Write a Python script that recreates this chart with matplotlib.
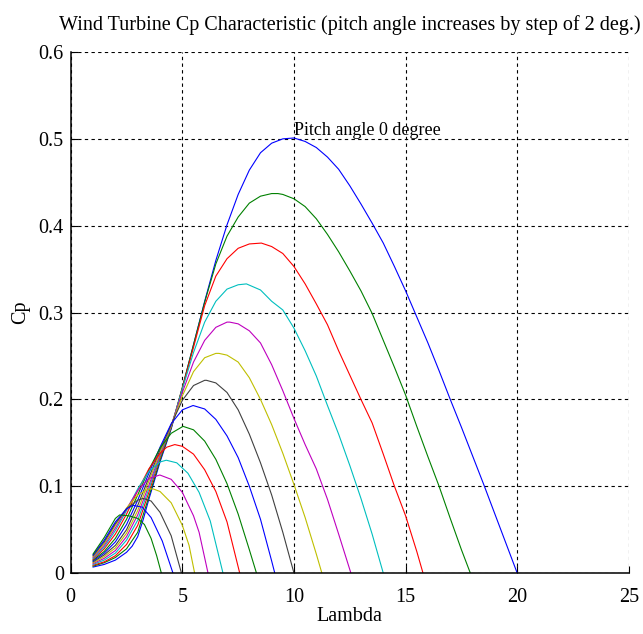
import matplotlib
matplotlib.use("Agg")
import matplotlib.pyplot as plt

# pitch angles, deg (step of 2)
pitch_angles = [0, 2, 4, 6, 8, 10, 12, 14, 16, 18, 20, 22, 24, 26, 28, 30]

# points, one (lambda, Cp) pair of lists per pitch angle
lam_b00 = [1, 1.5, 2, 2.5, 2.75, 3, 3.25, 3.5, 4, 4.5, 5, 5.5, 6, 6.5, 7, 7.5, 8, 8.5, 9, 9.5, 10,
           10.5, 11, 11.5, 12, 12.5, 13, 13.5, 14, 14.5, 15, 15.5, 16, 16.5, 17, 17.5, 18, 18.5, 19, 19.5, 20]
cp_b00 = [.007, .010, .015, .024, .031, .042, .062, .085, .128, .166, .213, .263, .313, .360, .401, .436, .464, .484, .495, .500, .501,
          .497, .490, .479, .465, .446, .425, .403, .380, .353, .325, .295, .265, .233, .200, .168, .135, .102, .068, .034, 0]

lam_b02 = [1, 1.5, 2, 2.5, 3, 3.5, 4, 4.5, 5, 5.5, 6, 6.5, 7, 7.5, 8, 8.5, 9, 9.28,
           9.5, 10, 10.5, 11, 11.5, 12, 12.5, 13, 13.5, 14, 14.5, 15, 15.5, 16, 16.5, 17, 17.5, 17.9]
cp_b02 = [.008, .012, .018, .028, .047, .088, .130, .167, .214, .263, .312, .356, .388, .410, .426, .434, .437, .437,
          .436, .431, .422, .408, .390, .370, .348, .325, .299, .268, .237, .205, .169, .134, .100, .063, .027, 0]

lam_b04 = [1, 1.5, 2, 2.5, 3, 3.5, 4, 4.5, 5, 5.5, 6, 6.5, 7, 7.5, 8, 8.54,
           9, 9.5, 10, 10.5, 11, 11.5, 12, 12.5, 13, 13.5, 14, 14.5, 15, 15.5, 15.78]
cp_b04 = [.009, .013, .020, .033, .055, .093, .133, .168, .213, .260, .308, .342, .362, .374, .379, .380,
          .376, .368, .353, .333, .310, .286, .256, .228, .200, .173, .137, .100, .066, .025, 0]

lam_b06 = [1, 1.5, 2, 2.5, 3, 3.5, 4, 4.5, 5, 5.5, 6, 6.5, 7, 7.5, 7.87,
           8.5, 9, 9.5, 10, 10.5, 11, 11.5, 12, 12.5, 13, 13.5, 14]
cp_b06 = [.010, .015, .023, .038, .061, .097, .135, .169, .212, .254, .289, .313, .327, .332, .333,
          .326, .313, .303, .282, .256, .227, .193, .160, .124, .086, .045, 0]

lam_b08 = [1, 1.5, 2, 2.5, 3, 3.5, 4, 4.5, 5, 5.5, 6, 6.5, 7, 7.12,
           7.5, 8, 8.5, 9, 9.5, 10, 10.5, 11, 11.5, 12, 12.55]
cp_b08 = [.011, .017, .026, .042, .067, .101, .137, .170, .208, .243, .268, .283, .289, .289,
          .287, .279, .265, .240, .210, .178, .148, .120, .085, .045, 0]

lam_b10 = [1, 1.5, 2, 2.5, 3, 3.5, 4, 4.5, 5, 5.5, 6, 6.5, 6.64,
           7, 7.5, 8, 8.5, 9, 9.5, 10, 10.5, 11, 11.25]
cp_b10 = [.012, .019, .029, .046, .072, .106, .139, .170, .204, .232, .248, .253, .253,
          .251, .243, .225, .200, .171, .138, .102, .064, .022, 0]

lam_b12 = [1, 1.5, 2, 2.5, 3, 3.5, 4, 4.5, 5, 5.5, 6, 6.08,
           6.5, 7, 7.5, 8, 8.5, 9, 9.5, 10]
cp_b12 = [.013, .021, .032, .050, .078, .110, .142, .171, .199, .216, .222, .222,
          .219, .208, .188, .160, .127, .090, .047, 0]

lam_b14 = [1, 1.5, 2, 2.5, 3, 3.5, 4, 4.5, 5, 5.48, 6, 6.5, 7, 7.5, 8, 8.5, 9, 9.14]
cp_b14 = [.014, .023, .036, .056, .084, .115, .145, .172, .188, .193, .189, .177, .158, .133, .100, .062, .014, 0]

lam_b16 = [1, 1.5, 2, 2.5, 3, 3.5, 4, 4.5, 5.03, 5.5, 6, 6.5, 7, 7.5, 8, 8.32]
cp_b16 = [.015, .025, .040, .062, .090, .119, .144, .161, .169, .165, .152, .131, .103, .068, .027, 0]

lam_b18 = [1, 1.5, 2, 2.5, 3, 3.5, 4, 4.3, 4.66, 5, 5.5, 6, 6.5, 7, 7.57]
cp_b18 = [.016, .028, .045, .068, .095, .120, .138, .145, .148, .146, .137, .119, .094, .059, 0]

lam_b20 = [1, 1.5, 2, 2.5, 3, 3.5, 4, 4.28, 4.75, 5.25, 5.75, 6.25, 6.82]
cp_b20 = [.017, .030, .049, .072, .097, .117, .128, .130, .127, .115, .093, .060, 0]

lam_b22 = [1, 1.5, 2, 2.5, 3, 3.5, 3.99, 4.5, 5, 5.5, 5.75, 6.15]
cp_b22 = [.018, .032, .052, .074, .095, .109, .113, .108, .093, .066, .047, 0]

lam_b24 = [1, 1.5, 2, 2.5, 3, 3.5, 3.69, 4, 4.5, 5, 5.3, 5.55]
cp_b24 = [.019, .034, .055, .075, .090, .097, .097, .094, .081, .055, .032, 0]

lam_b26 = [1, 1.5, 2, 2.5, 3, 3.24, 3.6, 4, 4.5, 4.96]
cp_b26 = [.020, .036, .057, .074, .084, .086, .083, .070, .043, 0]

lam_b28 = [1, 1.5, 2, 2.5, 2.79, 3.2, 3.6, 4.1, 4.58]
cp_b28 = [.021, .038, .059, .074, .078, .076, .064, .037, 0]

lam_b30 = [1, 1.5, 2, 2.19, 2.6, 3.0, 3.3, 3.6, 3.85, 4.06]
cp_b30 = [.022, .041, .063, .067, .066, .063, .056, .040, .020, 0]

curves = [(lam_b00, cp_b00), (lam_b02, cp_b02), (lam_b04, cp_b04), (lam_b06, cp_b06),
          (lam_b08, cp_b08), (lam_b10, cp_b10), (lam_b12, cp_b12), (lam_b14, cp_b14),
          (lam_b16, cp_b16), (lam_b18, cp_b18), (lam_b20, cp_b20), (lam_b22, cp_b22),
          (lam_b24, cp_b24), (lam_b26, cp_b26), (lam_b28, cp_b28), (lam_b30, cp_b30)]

x_ticks = [0, 5, 10, 15, 20, 25]
y_ticks = [0, 0.1, 0.2, 0.3, 0.4, 0.5, 0.6]

# old matlab colour order
matlab_colors = [(0, 0, 1), (0, 0.5, 0), (1, 0, 0), (0, 0.75, 0.75),
                 (0.75, 0, 0.75), (0.75, 0.75, 0), (0.25, 0.25, 0.25)]

plt.rcParams['font.family'] = ['Liberation Serif', 'DejaVu Serif']

fig = plt.figure(figsize=(6.43, 6.34), dpi=100)
ax = fig.add_axes([0.110, 0.096, 0.868, 0.822])

for i, (lam, cp) in enumerate(curves):
    ax.plot(lam, cp, color=matlab_colors[i % len(matlab_colors)], lw=0.8)

ax.set_xlim(0, 25)
ax.set_ylim(0, 0.6)
ax.set_xticks(x_ticks)
ax.set_yticks(y_ticks)
ax.set_xticklabels([str(t) for t in x_ticks])
ax.set_yticklabels(["0"] + [f"{t:.1f}" for t in y_ticks[1:]])
ax.grid(True, color='black', linestyle=(0, (3, 3)), linewidth=0.8)
ax.set_axisbelow(True)
for s in ['top', 'right']:
    ax.spines[s].set_visible(False)
ax.spines['left'].set_linewidth(1.1)
ax.spines['bottom'].set_linewidth(1.1)
ax.tick_params(direction='in', length=5, labelsize=14.5)
ax.tick_params(axis='x', pad=11)
ax.tick_params(axis='y', pad=5)

ax.text(10, 0.5, "Pitch angle 0 degree", fontsize=13, ha='left', va='bottom')
ax.set_title("Wind Turbine Cp Characteristic (pitch angle increases by step of 2 deg.)",
             fontsize=14.5, pad=16)
ax.set_xlabel("Lambda", fontsize=14.5, labelpad=0)
ax.set_ylabel("Cp", fontsize=14.5, labelpad=6)

fig.savefig("out.png", dpi=100)
